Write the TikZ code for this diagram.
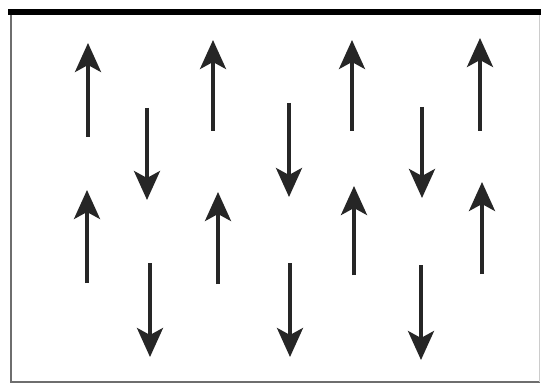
\documentclass[tikz,border=0pt]{standalone}
\usetikzlibrary{arrows.meta}
\definecolor{spinInk}{HTML}{262626}
\definecolor{spinFrame}{HTML}{6E6E6E}
\tikzset{
  spin arrow/.style={draw=spinInk, line width=3.6pt, -{Stealth[length=29pt, width=26pt, inset=7pt]}},
  spin frame/.style={draw=spinFrame, line width=2.6pt},
  spin top/.style={draw=black, line width=5.5pt},
}
\begin{document}
\begin{tikzpicture}[x=1pt,y=-1pt]
  \useasboundingbox (0,0) rectangle (541,385);
  \fill[white] (0,0) rectangle (541,385);
  % frame
  \draw[spin frame] (11,12) -- (11,382) -- (540,382);
  \draw[spin frame, draw=spinFrame!35, line width=1.2pt] (539.5,12) -- (539.5,382);
  \draw[spin top] (8,12) -- (541,12);
  % spins pointing up
  \foreach \x/\t/\b in {88/43/137, 213/40/131, 352/40/131, 480/38/131,
                        87/190/283, 218/192/284, 354/186/275, 482/182/274} {
    \draw[spin arrow] (\x,\b) -- (\x,\t);
  }
  % spins pointing down
  \foreach \x/\t/\b in {147/108/200, 289/103/197, 422/107/198,
                        150/263/357, 290/263/357, 421/265/360} {
    \draw[spin arrow] (\x,\t) -- (\x,\b);
  }
\end{tikzpicture}
\end{document}
